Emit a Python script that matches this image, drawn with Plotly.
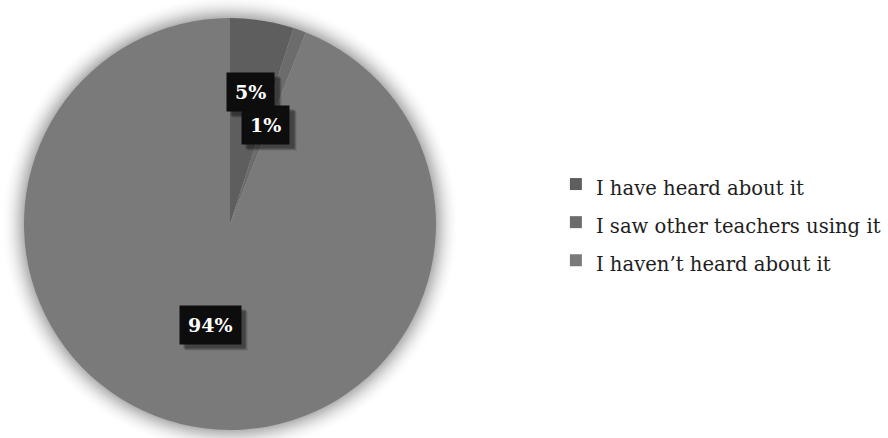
import math
import plotly.graph_objects as go

# Survey answers and their shares (%)
categories = ["I have heard about it", "I saw other teachers using it", "I haven\u2019t heard about it"]
shares = [5, 1, 94]
slice_colors = ["#5e5e5e", "#6c6c6c", "#7a7a7a"]

W, H = 888, 438
CX, CY, R = 230, 224, 206  # pie centre / radius in pixels (y from top)

dom_x = [(CX - R) / W, (CX + R) / W]
dom_y = [(H - CY - R) / H, (H - CY + R) / H]

# legend rows are spaced by the (larger) legend font; the visible text is smaller
legend_labels = [f"<span style='font-size:19.6px'>{c}</span>" for c in categories]

fig = go.Figure(
    go.Pie(
        labels=legend_labels,
        values=shares,
        sort=False,
        direction="clockwise",
        rotation=0,
        marker=dict(colors=slice_colors, line=dict(width=0)),
        textinfo="none",
        hovertext=categories,
        hoverinfo="text+percent",
        domain=dict(x=dom_x, y=dom_y),
    )
)

# Soft glow around the pie
shapes = []
for i in range(22, 0, -1):
    rr = R + i
    a = 0.028 * (1 - i / 23) ** 1.5 + 0.003
    shapes.append(dict(
        type="circle", xref="paper", yref="paper", layer="below",
        x0=(CX - rr) / W, x1=(CX + rr) / W,
        y0=(H - CY - rr) / H, y1=(H - CY + rr) / H,
        fillcolor=f"rgba(0,0,0,{a:.3f})", line=dict(width=0),
    ))


def blank_like(s):
    # same-width whitespace: figure space per digit, em space for the percent sign
    return "".join("\u2007" if ch.isdigit() else "\u2003" for ch in s)


# Percentage labels placed along each slice's mid angle
label_radius = [0.65, 0.51, 0.50]
total = sum(shares)
annotations = []
cum = 0
for v, frac in zip(shares, label_radius):
    mid = (cum + v / 2) / total * 2 * math.pi
    cum += v
    px = CX + frac * R * math.sin(mid)
    py = CY - frac * R * math.cos(mid)
    pct = f"{round(v / total * 100)}%"
    common = dict(
        xref="paper", yref="paper", showarrow=False,
        xanchor="center", yanchor="middle",
        borderpad=8,
    )
    # drop shadows behind the label box
    for off, alpha in ((6, 0.12), (5, 0.18), (4, 0.22)):
        annotations.append(dict(
            common, x=(px + off) / W, y=(H - py - off) / H,
            text=f"<b>{blank_like(pct)}</b>",
            bgcolor=f"rgba(0,0,0,{alpha})",
            font=dict(family="DejaVu Serif", size=19, color="rgba(0,0,0,0)"),
        ))
    annotations.append(dict(
        common, x=px / W, y=(H - py) / H, text=f"<b>{pct}</b>", bgcolor="#0d0d0d",
        font=dict(family="DejaVu Serif", size=19, color="white"),
    ))

fig.update_layout(
    width=W, height=H,
    margin=dict(l=0, r=0, t=0, b=0, autoexpand=False),
    paper_bgcolor="white",
    showlegend=True,
    legend=dict(
        x=0.626, y=0.492, xanchor="left", yanchor="middle",
        font=dict(family="DejaVu Serif", size=27, color="#1e1e1e"),
        itemwidth=30,
        bgcolor="rgba(0,0,0,0)",
    ),
    shapes=shapes,
    annotations=annotations,
)

fig.write_html("out.html")
